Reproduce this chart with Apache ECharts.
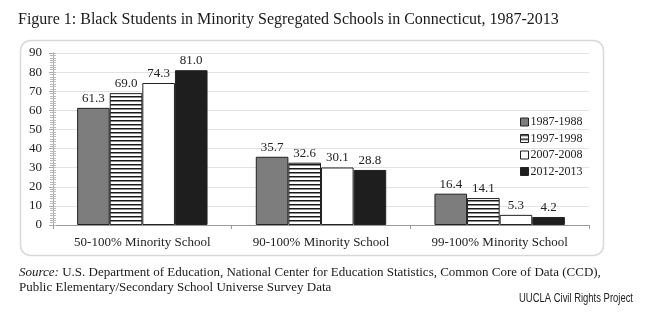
<!DOCTYPE html>
<html>
<head>
<meta charset="utf-8">
<script src="https://cdn.jsdelivr.net/npm/echarts@6/dist/echarts.min.js"></script>
<style>
html,body{margin:0;padding:0;background:#fff;}
#c{width:648px;height:332px;}
</style>
</head>
<body>
<div id="c"></div>
<script>
var categories = ['50-100% Minority School', '90-100% Minority School', '99-100% Minority School'];
var seriesNames = ['1987-1988', '1997-1998', '2007-2008', '2012-2013'];
var v1987 = [61.3, 35.7, 16.4];
var v1997 = [69.0, 32.6, 14.1];
var v2007 = [74.3, 30.1, 5.3];
var v2012 = [81.0, 28.8, 4.2];
var yTicks = [0, 10, 20, 30, 40, 50, 60, 70, 80, 90];

var SERIF = '"Liberation Serif", "DejaVu Serif", serif';

// horizontal stripe pattern
var pc = document.createElement('canvas');
pc.width = 4; pc.height = 4;
var pctx = pc.getContext('2d');
pctx.fillStyle = '#fff'; pctx.fillRect(0, 0, 4, 4);
pctx.fillStyle = '#1a1a1a'; pctx.fillRect(0, 0, 4, 1.5);
var stripe = { image: pc, repeat: 'repeat' };

var fills = ['#7d7d7d', stripe, '#ffffff', '#1e1e1e'];
var dataSets = [v1987, v1997, v2007, v2012];

var chart = echarts.init(document.getElementById('c'), null, { renderer: 'canvas' });

var series = dataSets.map(function (d, i) {
  return {
    name: seriesNames[i],
    type: 'bar',
    data: d,
    barGap: '0%',
    barCategoryGap: '27%',
    yAxisIndex: 0,
    itemStyle: { color: fills[i], borderColor: '#222', borderWidth: 1 },
    label: {
      show: true, position: 'top', distance: 3,
      fontFamily: SERIF, fontSize: 13, color: '#222',
      formatter: function (p) { return p.value.toFixed(1); }
    }
  };
});

chart.setOption({
  animation: false,
  backgroundColor: '#fff',
  grid: { left: 53, right: 59, top: 53, bottom: 107, containLabel: false },
  legend: {
    orient: 'vertical', left: 515, top: 111,
    itemWidth: 8, itemHeight: 8, itemGap: 4.5,
    icon: 'rect',
    textStyle: { fontFamily: SERIF, fontSize: 12, color: '#222', padding: [0, 0, 0, -3] },
    itemStyle: { borderColor: '#222', borderWidth: 1 },
    data: seriesNames
  },
  xAxis: {
    type: 'category', data: categories,
    axisLine: { lineStyle: { color: '#999', width: 1 } },
    axisTick: { show: true, length: 4, lineStyle: { color: '#999' } },
    axisLabel: { fontFamily: SERIF, fontSize: 13, color: '#222', margin: 11 }
  },
  yAxis: [{
    type: 'value', min: 0, max: 90, interval: 10,
    axisLine: { show: true, lineStyle: { color: '#aaa' } },
    axisTick: { show: true, length: 4, lineStyle: { color: '#aaa' } },
    minorTick: { show: true, splitNumber: 8, length: 3, lineStyle: { color: '#bbb' } },
    splitLine: { show: true, lineStyle: { color: '#e2e2e2', width: 1 } },
    axisLabel: {
      fontFamily: SERIF, fontSize: 13, color: '#222', margin: 11,
      formatter: function (v) { return yTicks.indexOf(v) >= 0 ? String(v) : ''; }
    }
  }, {
    type: 'value', min: 0, max: 90, interval: 10, position: 'left',
    axisLine: { show: false },
    axisTick: { show: true, inside: true, length: 3, lineStyle: { color: '#bbb' } },
    minorTick: { show: true, splitNumber: 8, length: 3, lineStyle: { color: '#bbb' } },
    splitLine: { show: false },
    axisLabel: { show: false }
  }],
  series: series,
  graphic: [
    {
      type: 'rect', z: -1, silent: true,
      shape: { x: 20.5, y: 40.5, width: 583, height: 215, r: 10 },
      style: { fill: '#fff', stroke: '#d8d8d8', lineWidth: 1.5 }
    },
    {
      type: 'text', left: 18, top: 12,
      style: { text: 'Figure 1: Black Students in Minority Segregated Schools in Connecticut, 1987-2013',
        font: '16px ' + SERIF, fill: '#1a1a1a' }
    },
    {
      type: 'text', left: 19, top: 265,
      style: {
        text: '{i|Source:} U.S. Department of Education, National Center for Education Statistics, Common Core of Data (CCD),\nPublic Elementary/Secondary School Universe Survey Data',
        font: '13px ' + SERIF, fill: '#1a1a1a', lineHeight: 15,
        rich: { i: { font: 'italic 13px ' + SERIF, fill: '#1a1a1a', lineHeight: 15 } }
      }
    },
    {
      type: 'text', x: 633, y: 298, scaleX: 0.7,
      style: { text: 'UUCLA Civil Rights Project', font: '13.5px "Liberation Sans", Arial, sans-serif',
        fill: '#222', align: 'right', verticalAlign: 'middle' }
    }
  ]
});
</script>
</body>
</html>
